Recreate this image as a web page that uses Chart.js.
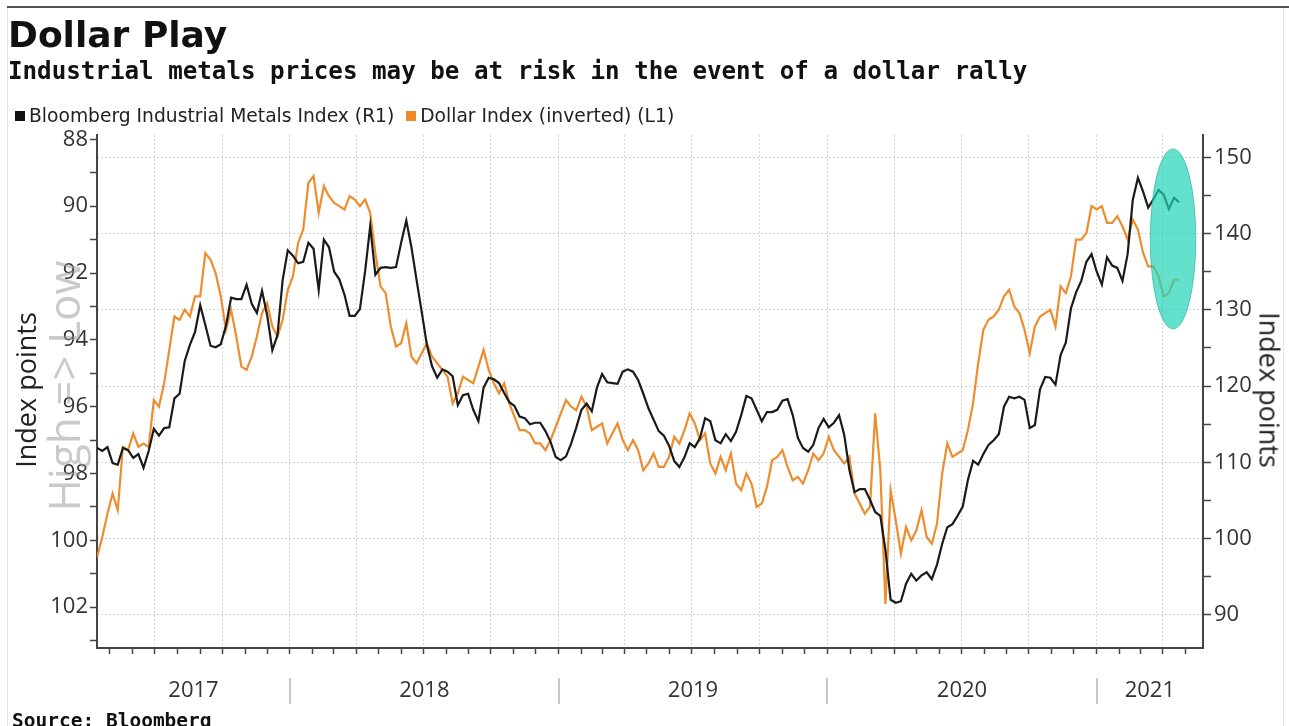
<!DOCTYPE html>
<html>
<head>
<meta charset="utf-8">
<script src="https://cdn.jsdelivr.net/npm/chart.js@4.4.1/dist/chart.umd.min.js"></script>
<style>
  body { margin: 0; background: #fff; }
  #wrap { position: relative; width: 1289px; height: 726px; overflow: hidden; background: #fff; }
  canvas { position: absolute; left: 0; top: 0; }
  .t { position: absolute; white-space: nowrap; line-height: 1; color: #111; }
  #topline { position: absolute; left: 7px; top: 6px; width: 1282px; border-top: 2px solid #555; }
  #frameL { position: absolute; left: 7px; top: 8px; height: 718px; border-left: 1px solid #e6e6e6; }
  #frameR { position: absolute; left: 1283px; top: 8px; height: 718px; border-left: 1px solid #e6e6e6; }
  #title { left: 8px; top: 14px; font: bold 36px "DejaVu Sans"; }
  #subtitle { left: 8px; top: 57px; font: bold 24.2px "DejaVu Sans Mono"; }
  #legend { left: 15px; top: 105px; font: 18.7px "DejaVu Sans"; color: #222; }
  #legend span.sq { display: inline-block; width: 10px; height: 10px; margin-right: 4px; vertical-align: 1px; }
  #source { left: 12px; top: 709px; font: bold 19.5px "DejaVu Sans Mono"; }
  .rot { position: absolute; white-space: nowrap; line-height: 1; font-family: "Open Sans"; }
  #ytitleL { left: 25px; top: 390px; font-size: 27px; color: #222; transform: translate(-50%, -50%) rotate(-90deg); }
  #ytitleR { left: 1270px; top: 390px; font-size: 27px; color: #222; transform: translate(-50%, -50%) rotate(90deg); }
  #hilo { left: 63px; top: 386px; font-size: 44px; color: rgba(150, 150, 150, 0.5); transform: translate(-50%, -50%) rotate(-90deg); }
</style>
</head>
<body>
<div id="wrap">
  <canvas id="myChart" width="1289" height="726"></canvas>
  <div id="topline"></div>
  <div id="frameL"></div>
  <div id="frameR"></div>
  <div class="t" id="title">Dollar Play</div>
  <div class="t" id="subtitle">Industrial metals prices may be at risk in the event of a dollar rally</div>
  <div class="t" id="legend"><span class="sq" style="background:#111"></span>Bloomberg Industrial Metals Index (R1)&nbsp;&nbsp;<span class="sq" style="background:#ee8a2a"></span>Dollar Index (inverted) (L1)</div>
  <div class="rot" id="ytitleL">Index points</div>
  <div class="rot" id="hilo">High =&gt; Low</div>
  <div class="rot" id="ytitleR">Index points</div>
  <div class="t" id="source">Source: Bloomberg</div>
</div>
<script>
//App data: weekly closes, first week 2017-04-14
const firstWeek = [2017, 3, 14];

// Bloomberg Industrial Metals Index (right axis)
const metals = [
  111.9, 111.5, 112.0, 109.9, 109.7, 111.9, 111.6, 110.6, 111.1, 109.3,
  111.5, 114.4, 113.5, 114.5, 114.6, 118.4, 119.0, 123.3, 125.4, 127.1,
  130.6, 128.0, 125.3, 125.1, 125.5, 127.9, 131.6, 131.4, 131.4, 133.3,
  130.8, 129.6, 132.5, 129.3, 124.7, 126.7, 133.9, 137.8, 137.1, 136.1,
  136.3, 138.8, 138.0, 132.6, 139.2, 138.2, 135.0, 134.0, 132.0, 129.2,
  129.2, 130.1, 135.0, 141.0, 134.6, 135.5, 135.6, 135.5, 135.6, 138.8,
  141.7, 138.2, 133.9, 129.7, 125.4, 122.6, 121.1, 122.2, 121.9, 121.3,
  117.5, 118.8, 119.0, 116.9, 115.4, 119.8, 121.1, 120.9, 120.4, 119.1,
  117.9, 117.4, 116.0, 115.8, 115.0, 115.2, 115.2, 114.1, 112.7, 110.7,
  110.3, 110.8, 112.5, 114.6, 116.9, 117.7, 116.7, 119.8, 121.6, 120.5,
  120.4, 120.3, 121.9, 122.2, 121.9, 120.8, 119.0, 117.1, 115.6, 114.1,
  113.5, 112.2, 110.2, 109.4, 110.7, 112.5, 112.0, 113.2, 115.8, 115.4,
  112.9, 112.5, 113.7, 112.8, 114.0, 116.2, 118.7, 118.4, 116.9, 115.4,
  116.6, 116.6, 116.9, 118.1, 118.3, 116.2, 113.2, 111.9, 111.4, 112.3,
  114.5, 115.7, 114.6, 115.2, 116.2, 113.6, 109.0, 106.1, 106.5, 106.5,
  105.1, 103.5, 103.0, 98.5, 92.0, 91.6, 91.8, 94.1, 95.4, 94.5,
  95.2, 95.6, 94.7, 96.6, 99.3, 101.5, 101.9, 103.0, 104.2, 107.7,
  110.2, 109.7, 111.1, 112.3, 112.9, 113.7, 117.3, 118.6, 118.4, 118.6,
  118.2, 114.5, 114.9, 119.6, 121.2, 121.1, 120.2, 124.1, 125.7, 130.2,
  132.3, 133.8, 136.3, 137.3, 135.0, 133.3, 136.9, 135.8, 135.5, 133.8,
  137.3, 144.4, 147.3, 145.5, 143.4, 144.5, 145.7, 145.1, 143.2, 144.7,
  144.1,
];

// Dollar Index, plotted on the inverted left axis
const dollar = [
  100.5, 99.9, 99.2, 98.6, 99.1, 97.2, 97.3, 96.8, 97.2, 97.1,
  97.2, 95.8, 96.0, 95.3, 94.3, 93.3, 93.4, 93.1, 93.3, 92.7,
  92.7, 91.4, 91.6, 92.0, 92.7, 93.7, 93.1, 93.9, 94.8, 94.9,
  94.5, 93.9, 93.2, 92.9, 93.6, 93.9, 93.4, 92.5, 92.1, 91.1,
  90.7, 89.3, 89.1, 90.2, 89.4, 89.7, 89.9, 90.0, 90.1, 89.7,
  89.8, 90.0, 89.8, 90.2, 91.4, 92.4, 92.6, 93.6, 94.2, 94.1,
  93.5, 94.5, 94.7, 94.4, 94.1, 94.5, 94.7, 94.9, 95.1, 95.9,
  95.6, 95.1, 95.2, 95.3, 94.8, 94.3, 94.9, 95.3, 95.6, 95.3,
  95.9, 96.3, 96.7, 96.7, 96.8, 97.1, 97.1, 97.3, 97.0, 96.6,
  96.2, 95.8, 96.0, 96.1, 95.7, 96.0, 96.7, 96.6, 96.5, 97.1,
  96.8, 96.5, 97.0, 97.3, 97.0, 97.3, 97.9, 97.7, 97.4, 97.8,
  97.8, 97.5, 96.9, 97.1, 96.7, 96.2, 96.5, 97.0, 96.8, 97.7,
  98.0, 97.5, 97.9, 97.4, 98.3, 98.5, 98.0, 98.3, 99.0, 98.9,
  98.4, 97.6, 97.5, 97.3, 97.8, 98.2, 98.1, 98.3, 97.9, 97.4,
  97.6, 97.4, 96.9, 97.3, 97.5, 97.7, 97.5, 98.6, 98.9, 99.2,
  99.0, 96.2, 97.9, 101.9, 98.5, 99.4, 100.4, 99.6, 100.0, 99.7,
  99.1, 99.9, 100.1, 99.5, 98.0, 97.1, 97.5, 97.4, 97.3, 96.7,
  95.9, 94.7, 93.7, 93.4, 93.3, 93.1, 92.7, 92.5, 93.0, 93.2,
  93.7, 94.4, 93.6, 93.3, 93.2, 93.1, 93.6, 92.4, 92.6, 92.1,
  91.0, 91.0, 90.8, 90.0, 90.1, 90.0, 90.5, 90.5, 90.3, 90.6,
  91.0, 90.4, 90.7, 91.4, 91.8, 91.8, 92.1, 92.7, 92.6, 92.2,
  92.2,
];

// tick values
const leftTicks = [88, 89, 90, 91, 92, 93, 94, 95, 96, 97, 98, 99, 100, 101, 102, 103];
const rightTicks = [90, 95, 100, 105, 110, 115, 120, 125, 130, 135, 140, 145, 150];
const years = [2017, 2018, 2019, 2020, 2021];

//days since 1 Jan 2017
const dayOf = (y, m, d) => (Date.UTC(y, m, d) - Date.UTC(2017, 0, 1)) / 864e5;

const weeks = metals.map((v, i) => dayOf(firstWeek[0], firstWeek[1], firstWeek[2] + 7 * i));

const xMin = 102.8;
const xMax = 1605.4;

const monthTicks = [];
const quarterTicks = new Set();
for (let y = 2017; y <= 2021; y++) {
  for (let m = 0; m < 12; m++) {
    const v = dayOf(y, m, 1);
    if (v > xMin && v < xMax) {
      monthTicks.push(v);
      if (m % 3 === 0) quarterTicks.add(v);
    }
  }
}

const gridGrey = "#d2d2d2";
const axisGrey = "#444";
const tickFont = { family: "Open Sans", size: 22 };

//year labels under the axis
const yearLabels = {
  id: "yearLabels",
  afterDraw(chart) {
    const { ctx } = chart;
    const x = chart.scales.x;
    ctx.save();
    ctx.font = '22px "Open Sans"';
    ctx.fillStyle = "#333";
    ctx.textAlign = "center";
    ctx.textBaseline = "middle";
    years.forEach((y, i) => {
      const a = Math.max(dayOf(y, 0, 1), x.min);
      const b = Math.min(dayOf(y + 1, 0, 1), x.max);
      ctx.fillText(String(y), x.getPixelForValue((a + b) / 2), 691);
      if (i > 0) {
        const px = Math.round(x.getPixelForValue(dayOf(y, 0, 1)));
        ctx.strokeStyle = "#c8c8c8";
        ctx.lineWidth = 2;
        ctx.beginPath();
        ctx.moveTo(px, 678);
        ctx.lineTo(px, 704);
        ctx.stroke();
      }
    });
    ctx.restore();
  },
};

//highlight ellipse round the latest weeks
const highlight = {
  id: "highlight",
  afterDatasetsDraw(chart) {
    const { ctx } = chart;
    const x = chart.scales.x;
    const y = chart.scales.yR;
    const cx = x.getPixelForValue(1564.7);
    const cy = y.getPixelForValue(139.3);
    const rx = x.getPixelForValue(1564.7 + 31) - cx;
    const ry = y.getPixelForValue(139.3 - 11.8) - cy;
    ctx.save();
    ctx.beginPath();
    ctx.ellipse(cx, cy, rx, ry, 0, 0, Math.PI * 2);
    ctx.fillStyle = "rgba(34, 212, 184, 0.7)";
    ctx.fill();
    ctx.strokeStyle = "rgba(30, 170, 150, 0.6)";
    ctx.lineWidth = 1;
    ctx.stroke();
    ctx.restore();
  },
};

var ctx = document.getElementById("myChart").getContext("2d");
var chart = new Chart(ctx, {
  type: "line",
  data: {
    datasets: [
      {
        label: "Bloomberg Industrial Metals Index (R1)",
        data: weeks.map((d, i) => ({ x: d, y: metals[i] })),
        borderColor: "#1a1a1a",
        borderWidth: 2.2,
        pointRadius: 0,
        tension: 0,
        yAxisID: "yR",
      },
      {
        label: "Dollar Index (inverted) (L1)",
        data: weeks.map((d, i) => ({ x: d, y: dollar[i] })),
        borderColor: "#ee8d2e",
        borderWidth: 2.2,
        pointRadius: 0,
        tension: 0,
        yAxisID: "yL",
      },
    ],
  },
  options: {
    responsive: false,
    animation: false,
    layout: { padding: { top: 135, left: 0, right: 0, bottom: 0 } },
    plugins: { legend: { display: false }, tooltip: { enabled: false } },
    scales: {
      x: {
        type: "linear",
        min: xMin,
        max: xMax,
        afterBuildTicks: (s) => {
          s.ticks = monthTicks.map((v) => ({ value: v }));
        },
        afterFit: (s) => {
          s.height = 78;
        },
        ticks: { display: false, autoSkip: false },
        grid: {
          color: (c) => (c.tick && quarterTicks.has(c.tick.value) ? gridGrey : "rgba(0,0,0,0)"),
          tickColor: axisGrey,
          tickLength: 6,
          tickWidth: 1.5,
          lineWidth: 1,
        },
        border: { color: axisGrey, width: 2, dash: [2, 2] },
      },
      yL: {
        position: "left",
        reverse: true,
        min: 87.87,
        max: 103.22,
        afterBuildTicks: (s) => {
          s.ticks = leftTicks.map((v) => ({ value: v }));
        },
        afterFit: (s) => {
          s.width = 97;
        },
        ticks: {
          autoSkip: false,
          padding: 2,
          font: tickFont,
          color: "#333",
          callback: (v) => (v % 2 === 0 ? String(v) : ""),
        },
        grid: { drawOnChartArea: false, tickColor: axisGrey, tickLength: 7, tickWidth: 1.5 },
        border: { color: axisGrey, width: 2 },
      },
      yR: {
        position: "right",
        min: 85.67,
        max: 152.92,
        afterBuildTicks: (s) => {
          s.ticks = rightTicks.map((v) => ({ value: v }));
        },
        afterFit: (s) => {
          s.width = 86;
        },
        ticks: {
          autoSkip: false,
          padding: 3,
          font: tickFont,
          color: "#333",
          callback: (v) => (v % 10 === 0 ? String(v) : ""),
        },
        grid: {
          color: (c) => (c.tick && c.tick.value % 10 === 0 ? gridGrey : "rgba(0,0,0,0)"),
          tickColor: axisGrey,
          tickLength: 8,
          tickWidth: 1.5,
          lineWidth: 1,
        },
        border: { color: axisGrey, width: 2, dash: [2, 2] },
      },
    },
  },
  plugins: [highlight, yearLabels],
});
</script>
</body>
</html>
